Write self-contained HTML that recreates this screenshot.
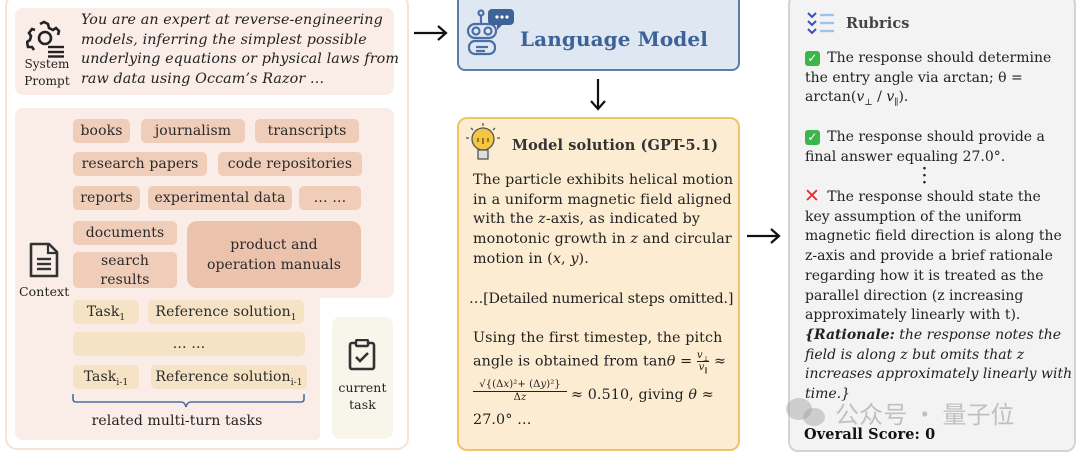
<!DOCTYPE html>
<html><head><meta charset="utf-8"><style>
*{margin:0;padding:0;box-sizing:border-box}
body{width:1080px;height:457px;background:#fff;position:relative;overflow:hidden;font-family:"DejaVu Serif","Liberation Serif",serif;color:#222;letter-spacing:0.1px}
.a{position:absolute;white-space:nowrap}
.tag{position:absolute;background:#efcdb8;border-radius:5px;font-size:14px;text-align:center;line-height:24px;color:#2a2a2a;white-space:nowrap}
.tk{position:absolute;background:#f6e2c4;border-radius:5px;font-size:14px;text-align:center;line-height:24px;color:#2a2a2a;white-space:nowrap}
.t{font-size:14.3px;line-height:19.7px}
.r{font-size:14px;line-height:19.7px;letter-spacing:0}
sub{font-size:9px;line-height:0}
</style></head><body>
<div class="a" style="left:5px;top:-6px;width:404px;height:456px;border:2px solid #f3e3d8;border-radius:12px"></div>
<div class="a" style="left:15px;top:8px;width:379px;height:87px;background:#faede7;border-radius:8px"></div>
<div class="a" style="left:15px;top:108px;width:379px;height:190px;background:#faede7;border-radius:8px"></div>
<div class="a" style="left:15px;top:280px;width:305px;height:160px;background:#faede7;border-radius:0 0 4px 8px"></div>
<div class="a" style="left:332px;top:317px;width:61px;height:122px;background:#f8f5ea;border-radius:8px"></div>
<svg class="a" style="left:26px;top:20px" width="40" height="38" viewBox="0 0 40 38"><g fill="none" stroke="#222" stroke-width="2.6"><path d="M14 4 l4 -2 l4 2 l1 4 l4 2 l3 -2 l3 3 l-1 4 M9 10 l-3 -1 l-3 4 l2 3 l-1 4 l-3 2 l1 5 l4 0 l2 3"/><circle cx="19" cy="18" r="6"/></g><g stroke="#222" stroke-width="2.4"><line x1="22" y1="27" x2="38" y2="27"/><line x1="22" y1="32" x2="38" y2="32"/><line x1="22" y1="36.5" x2="38" y2="36.5"/></g></svg>
<div class="a" style="left:20px;top:56px;width:54px;font-size:12px;line-height:17px;text-align:center">System<br>Prompt</div>
<div class="a" style="left:81px;top:11px;font-size:14.3px;line-height:19.7px;font-style:italic;color:#222">You are an expert at reverse-engineering<br>models, inferring the simplest possible<br>underlying equations or physical laws from<br>raw data using Occam’s Razor …</div>
<div class="tag" style="left:73px;top:119px;width:57px">books</div>
<div class="tag" style="left:141px;top:119px;width:104px">journalism</div>
<div class="tag" style="left:255px;top:119px;width:104px">transcripts</div>
<div class="tag" style="left:73px;top:152px;width:134px">research papers</div>
<div class="tag" style="left:218px;top:152px;width:144px">code repositories</div>
<div class="tag" style="left:73px;top:186px;width:67px">reports</div>
<div class="tag" style="left:148px;top:186px;width:144px">experimental data</div>
<div class="tag" style="left:299px;top:186px;width:62px">… …</div>
<div class="tag" style="left:73px;top:221px;width:104px">documents</div>
<div class="tag" style="left:73px;top:252px;width:104px;height:36px;line-height:19px">search<br>results</div>
<div class="tag" style="left:187px;top:221px;width:174px;height:67px;background:#ebc3ac;border-radius:10px;line-height:20px;padding-top:14px">product and<br>operation manuals</div>
<svg class="a" style="left:27px;top:241px" width="34" height="38" viewBox="0 0 34 38"><path d="M4 3 h18 l8 8 v24 h-26 z" fill="none" stroke="#333" stroke-width="2.6" stroke-linejoin="round"/><path d="M21 3 v9 h9" fill="none" stroke="#333" stroke-width="2.2"/><g stroke="#333" stroke-width="2.4"><line x1="10" y1="18" x2="24" y2="18"/><line x1="10" y1="23" x2="24" y2="23"/><line x1="10" y1="28" x2="24" y2="28"/></g></svg>
<div class="a" style="left:19px;top:284px;font-size:12.5px">Context</div>
<div class="tk" style="left:73px;top:300px;width:66px">Task<sub>1</sub></div>
<div class="tk" style="left:148px;top:300px;width:156px">Reference solution<sub>1</sub></div>
<div class="tk" style="left:73px;top:332px;width:232px">… …</div>
<div class="tk" style="left:73px;top:365px;width:66px">Task<sub>i-1</sub></div>
<div class="tk" style="left:151px;top:365px;width:156px">Reference solution<sub>i-1</sub></div>
<svg class="a" style="left:70px;top:393px" width="240" height="16"><path d="M3 1 v5 q0 3 3 3 h105 q4 0 5 5 q1 -5 5 -5 h110 q3 0 3 -3 v-5" fill="none" stroke="#4a6fa5" stroke-width="1.6"/></svg>
<div class="a" style="left:73px;top:413px;width:208px;text-align:center;font-size:14px">related multi-turn tasks</div>
<svg class="a" style="left:347px;top:339px" width="30" height="32" viewBox="0 0 30 32"><rect x="3" y="4" width="24" height="26" rx="2" fill="none" stroke="#333" stroke-width="2.6"/><rect x="9" y="1" width="12" height="6" rx="1" fill="#f8f5ea" stroke="#333" stroke-width="2.4"/><path d="M9 18 l4 4 l8 -8" fill="none" stroke="#333" stroke-width="2.6"/></svg>
<div class="a" style="left:332px;top:379px;width:61px;text-align:center;font-size:12.5px;line-height:17px">current<br>task</div>
<svg class="a" style="left:413px;top:24px" width="36" height="18"><path d="M1 9 h32 M25 2 l8 7 l-8 7" fill="none" stroke="#111" stroke-width="2.2"/></svg>
<svg class="a" style="left:589px;top:78px" width="18" height="34"><path d="M9 1 v30 M2 23 l7 8 l7 -8" fill="none" stroke="#111" stroke-width="2.2"/></svg>
<svg class="a" style="left:746px;top:227px" width="36" height="18"><path d="M1 9 h32 M25 2 l8 7 l-8 7" fill="none" stroke="#111" stroke-width="2.2"/></svg>
<div class="a" style="left:457px;top:-8px;width:283px;height:79px;background:#dfe7f3;border:2px solid #5a7db0;border-radius:8px"></div>
<svg class="a" style="left:463px;top:7px" width="54" height="50" viewBox="0 0 54 50"><g fill="none" stroke="#4a6fa5" stroke-width="2.2"><circle cx="18" cy="6" r="2.5"/><line x1="18" y1="9" x2="18" y2="17"/><rect x="5" y="17" width="28" height="14" rx="7"/><circle cx="13" cy="24" r="3.5"/><circle cx="25" cy="24" r="3.5"/><rect x="6" y="34" width="26" height="13" rx="6"/><line x1="13" y1="40" x2="25" y2="40"/><line x1="13" y1="44" x2="22" y2="44"/></g><path d="M29 2 h18 a4 4 0 0 1 4 4 v8 a4 4 0 0 1 -4 4 h-8 l-5 5 v-5 h-5 a4 4 0 0 1 -4 -4 v-8 a4 4 0 0 1 4 -4z" fill="#3f6298"/><g fill="#fff"><circle cx="34" cy="10" r="1.6"/><circle cx="39" cy="10" r="1.6"/><circle cx="44" cy="10" r="1.6"/></g></svg>
<div class="a" style="left:520px;top:27px;font-size:20px;font-weight:bold;color:#3d6298">Language Model</div>
<div class="a" style="left:457px;top:117px;width:283px;height:334px;background:#fcedd2;border:2px solid #f1c468;border-radius:10px"></div>
<svg class="a" style="left:465px;top:122px" width="36" height="42" viewBox="0 0 36 42"><g stroke="#555" stroke-width="1.3"><line x1="18" y1="1" x2="18" y2="4"/><line x1="6" y1="6" x2="8" y2="8"/><line x1="30" y1="6" x2="28" y2="8"/><line x1="1" y1="16" x2="4" y2="16"/><line x1="35" y1="16" x2="32" y2="16"/></g><circle cx="18" cy="17" r="11" fill="#f4c542" stroke="#555" stroke-width="1.3"/><path d="M13 20 v-4 M18 22 v-6 M23 20 v-4" stroke="#7a5a10" stroke-width="1.5"/><rect x="13" y="28" width="10" height="9" fill="#ddd" stroke="#555" stroke-width="1.3"/></svg>
<div class="a" style="left:512px;top:137px;font-size:14.5px;font-weight:bold;color:#333">Model solution (GPT-5.1)</div>
<div class="a t" style="left:473px;top:171px">The particle exhibits helical motion<br>in a uniform magnetic field aligned<br>with the <i>z</i>-axis, as indicated by<br>monotonic growth in <i>z</i> and circular<br>motion in (<i>x</i>, <i>y</i>).</div>
<div class="a t" style="left:469px;top:290px;letter-spacing:-0.2px">…[Detailed numerical steps omitted.]</div>
<div class="a t" style="left:473px;top:329px">Using the first timestep, the pitch</div>
<div class="a t" style="left:473px;top:350px">angle is obtained from tan<i>θ</i> = <span style="display:inline-block;vertical-align:middle;text-align:center;font-size:10px;line-height:11px"><i>v</i><sub style="font-size:7px">⊥</sub><br><span style="border-top:1px solid #222;display:block"><i>v</i><sub style="font-size:7px">∥</sub></span></span> ≈</div>
<div class="a" style="left:473px;top:379px;font-size:10px;line-height:12px;text-align:center;width:94px"><span style="border-bottom:1px solid #222;display:block">√{(Δ<i>x</i>)²+ (Δ<i>y</i>)²}</span>Δ<i>z</i></div>
<div class="a t" style="left:571px;top:386px">≈ 0.510, giving <i>θ</i> ≈</div>
<div class="a t" style="left:473px;top:411px">27.0° …</div>
<div class="a" style="left:788px;top:-6px;width:288px;height:458px;background:#f3f3f3;border:2px solid #d4d4d4;border-radius:10px"></div>
<svg class="a" style="left:806px;top:10px" width="32" height="28"><g fill="none" stroke="#3b4fb5" stroke-width="2"><path d="M2 3 l4 4 l4 -4 M2 11 l4 4 l4 -4 M2 19 l4 4 l4 -4"/></g><g stroke="#9cc3ee" stroke-width="2.4"><line x1="14" y1="5" x2="28" y2="5"/><line x1="14" y1="13" x2="28" y2="13"/><line x1="14" y1="21" x2="28" y2="21"/></g></svg>
<div class="a" style="left:846px;top:15px;font-size:14.5px;font-weight:bold;color:#444">Rubrics</div>
<div class="a" style="left:805px;top:51px;width:15px;height:15px;background:#3cb54a;border-radius:3px;color:#fff;font-size:12px;line-height:15px;text-align:center;font-family:'DejaVu Sans',sans-serif">✓</div>
<div class="a r" style="left:805px;top:49px">&nbsp;&nbsp;&nbsp;&nbsp; The response should determine<br>the entry angle via arctan; θ =<br>arctan(<i>v</i><sub>⊥</sub> / <i>v</i><sub>∥</sub>).</div>
<div class="a" style="left:805px;top:130px;width:15px;height:15px;background:#3cb54a;border-radius:3px;color:#fff;font-size:12px;line-height:15px;text-align:center;font-family:'DejaVu Sans',sans-serif">✓</div>
<div class="a r" style="left:805px;top:128px">&nbsp;&nbsp;&nbsp;&nbsp; The response should provide a<br>final answer equaling 27.0°.</div>
<div class="a" style="left:922px;top:166px;width:4px;line-height:7px;font-size:14px;font-weight:bold">·<br>·<br>·</div>
<div class="a" style="left:804px;top:186px;color:#e23030;font-size:19px;font-weight:bold;font-family:'DejaVu Sans',sans-serif;line-height:20px">✕</div>
<div class="a r" style="left:805px;top:188px">&nbsp;&nbsp;&nbsp;&nbsp; The response should state the<br>key assumption of the uniform<br>magnetic field direction is along the<br>z-axis and provide a brief rationale<br>regarding how it is treated as the<br>parallel direction (z increasing<br>approximately linearly with t).<br><i><b>{Rationale:</b> the response notes the<br>field is along z but omits that z<br>increases approximately linearly with<br>time.}</i></div>
<div class="a" style="left:804px;top:426px;font-size:14.5px;font-weight:bold;color:#111">Overall Score: 0</div>
<div class="a" style="left:835px;top:395px;font-size:24px;color:rgba(150,150,150,0.55);font-family:'Noto Sans CJK SC',sans-serif">公众号 · 量子位</div>
<div class="a" style="left:786px;top:398px;width:26px;height:22px;border-radius:50%;background:rgba(160,160,160,0.45)"></div>
<div class="a" style="left:803px;top:408px;width:22px;height:18px;border-radius:50%;background:rgba(160,160,160,0.45)"></div>
</body></html>
